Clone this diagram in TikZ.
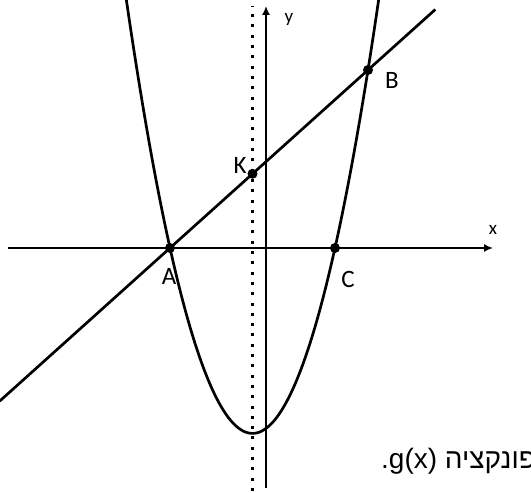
\documentclass[tikz,border=0pt]{standalone}
\usepackage{fontspec}
\setmainfont{Carlito}
\newfontfamily\hebfont[Script=Hebrew]{Liberation Sans}
\TeXXeTstate=1
\usetikzlibrary{arrows.meta,calc}

\begin{document}
\begin{tikzpicture}[x=1pt, y=1pt,
  curve/.style={line width=2.7pt},
  axis/.style={line width=1.6pt, -{Latex[length=9pt,width=8pt]}},
  dot/.style={circle, fill, inner sep=0pt, minimum size=10pt},
  ptlabel/.style={font=\fontsize{25}{25}\selectfont},
  axlabel/.style={font=\fontsize{19}{19}\selectfont},
  symmetry/.style={line width=3.5pt, dash pattern=on 3pt off 7.3pt}
]
\clip (0,0) rectangle (531,493);
\useasboundingbox (0,0) rectangle (531,493);

%% Axes
\coordinate (xs) at (8,245);
\coordinate (xe) at (493,245);
\coordinate (ys) at (266,5);
\coordinate (ye) at (266,487);
\draw[axis] (xs) -- (xe);
\draw[axis] (ys) -- (ye);
\node[axlabel] (xl) at (493,263) {x};
\node[axlabel] (yl) at (289,474) {y};

%% Axis of symmetry (dotted)
\coordinate (ss) at (252.5,2);
\coordinate (se) at (252.5,487);
\draw[symmetry] (ss) -- (se);

%% Parabola
\draw[curve, domain=-130:130, samples=120]
  plot ({252.5+\x}, {59.6+(0.16505*\x)^2});

%% Points
\node[dot] (A) at (170,245) {};
\node[dot] (C) at (335,245) {};
\node[dot] (K) at (252.5,319.2) {};
\node[dot] (B) at (368,423) {};

%% Straight line through A and B
\draw[curve] ($(A.center)!-0.86!(B.center)$) -- ($(A.center)!1.34!(B.center)$);

%% Point labels
\node[ptlabel] (lA) at (169,217) {A};
\node[ptlabel] (lC) at (348,214) {C};
\node[ptlabel] (lK) at (240,328) {K};
\node[ptlabel] (lB) at (392,413) {B};

%% Caption text (cut at the right edge, as in the original)
\node[font=\hebfont\fontsize{28}{28}\selectfont, anchor=base west, inner sep=0pt]
  (note) at (381,24) {\beginR פונקציה \beginL g(x)\endL.\endR};

\end{tikzpicture}
\end{document}
